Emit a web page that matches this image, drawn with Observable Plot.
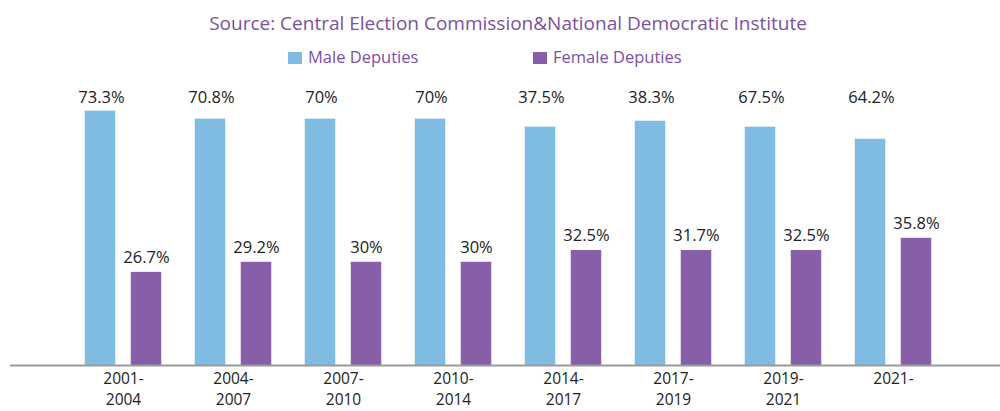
<!DOCTYPE html>
<html>
<head>
<meta charset="utf-8">
<script src="https://cdn.jsdelivr.net/npm/d3@7"></script>
<script src="https://cdn.jsdelivr.net/npm/@observablehq/plot@0.6"></script>
<style>
  html, body { margin: 0; padding: 0; background: #fff; }
  body { width: 1000px; height: 411px; overflow: hidden; font-family: "Open Sans", sans-serif; }
  #title { height: 44px; line-height: 46px; text-align: center; color: #7b4fa3; font-size: 19px; padding-left: 16px; }
  #legend { height: 26px; position: relative; color: #7b4fa3; font-size: 16.5px; }
  .item { position: absolute; top: 0; height: 26px; line-height: 25px; white-space: nowrap; }
  .sw { display: inline-block; width: 14px; height: 12px; vertical-align: middle; margin-right: 6px; position: relative; top: -1px; }
  #chart svg { display: block; }
</style>
</head>
<body>
<div id="title">Source: Central Election Commission&amp;National Democratic Institute</div>
<div id="legend"></div>
<div id="chart"></div>
<script>
const periods = ["2001-\n2004", "2004-\n2007", "2007-\n2010", "2010-\n2014", "2014-\n2017", "2017-\n2019", "2019-\n2021", "2021-"];
const maleValues = [73.2, 70.9, 70.9, 70.9, 68.6, 70.3, 68.6, 65.1];
const femaleValues = [26.8, 29.7, 29.7, 29.7, 33.1, 33.1, 33.1, 36.6];
const maleLabels = ["73.3%", "70.8%", "70%", "70%", "37.5%", "38.3%", "67.5%", "64.2%"];
const femaleLabels = ["26.7%", "29.2%", "30%", "30%", "32.5%", "31.7%", "32.5%", "35.8%"];
const seriesNames = ["Male Deputies", "Female Deputies"];
const colors = ["#80bce1", "#865fa8"];

const male = periods.map((p, i) => ({period: p, value: maleValues[i], label: maleLabels[i]}));
const female = periods.map((p, i) => ({period: p, value: femaleValues[i], label: femaleLabels[i]}));

// legend
const legend = document.getElementById("legend");
const legendX = [288, 533];
seriesNames.forEach((name, i) => {
  const it = document.createElement("div");
  it.className = "item";
  it.style.left = legendX[i] + "px";
  it.innerHTML = `<span class="sw" style="background:${colors[i]}"></span>${name}`;
  legend.appendChild(it);
});

const chart = Plot.plot({
  width: 1000,
  height: 341,
  marginLeft: 10,
  marginRight: 0,
  marginTop: 17,
  marginBottom: 46,
  style: {fontFamily: "Open Sans, sans-serif", fontSize: "16px", color: "#222", background: "white"},
  x: {type: "band", domain: periods, paddingInner: 0, paddingOuter: 0.48, align: 0.53, label: null},
  y: {domain: [0, 80], axis: null},
  marks: [
    Plot.barY(male, {x: "period", y: "value", fill: colors[0], insetLeft: 16.75, insetRight: 62.75}),
    Plot.barY(female, {x: "period", y: "value", fill: colors[1], insetLeft: 62.75, insetRight: 16.75}),
    Plot.ruleY([0], {stroke: "#999", strokeWidth: 2}),
    Plot.text(male, {x: "period", text: "label", frameAnchor: "top", dx: -22, dy: 10, lineAnchor: "middle", fontSize: 16.5, fill: "#222"}),
    Plot.text(female, {x: "period", y: "value", text: "label", dx: 23, dy: -15, lineAnchor: "middle", fontSize: 16.5, fill: "#222"}),
    Plot.axisX({tickSize: 0, tickPadding: 3, fontSize: 15.5, lineHeight: 1.38, fill: "#222", label: null})
  ]
});
document.getElementById("chart").appendChild(chart);
</script>
</body>
</html>
